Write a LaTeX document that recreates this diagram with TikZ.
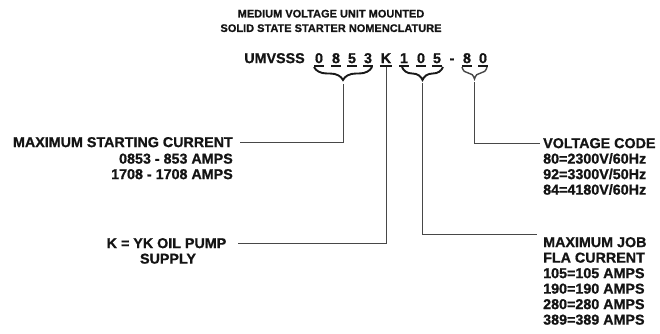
\documentclass[tikz,border=0pt]{standalone}
\usepackage{fontspec}
\setmainfont{Liberation Sans}[BoldFeatures={FakeBold=0.9}]
\usetikzlibrary{decorations.pathreplacing}
\begin{document}
\begin{tikzpicture}[x=1pt,y=-1pt,
  lbl/.style={font=\fontsize{14.3}{15.5}\selectfont\bfseries, inner sep=0pt, text height=10.2pt, text depth=0pt, text=black!92},
  ttl/.style={font=\fontsize{11}{13}\selectfont\bfseries, inner sep=0pt, text height=7.9pt, text depth=0pt, text=black!92},
  ch/.style={lbl, anchor=center},
  ul/.style={line width=1.4pt, black!90},
  brc/.style={decorate, decoration={brace, mirror, amplitude=13pt}, line width=1.9pt, black!90},
  conn/.style={line width=0.8pt, black!72}]
\path[use as bounding box, fill=white] (0,0) rectangle (660,333);

% title
\node[ttl] (t1) at (331,13.5) {MEDIUM VOLTAGE UNIT MOUNTED};
\node[ttl] (t2) at (331,28) {SOLID STATE STARTER NOMENCLATURE};

% code row
\node[ch] (um) at (274.5,58) {UMVSSS};
\node[ch] (d1) at (319,58) {0};
\node[ch] (d2) at (336,58) {8};
\node[ch] (d3) at (352,58) {5};
\node[ch] (d4) at (368,58) {3};
\node[ch] (d5) at (386,58) {K};
\node[ch] (d6) at (404,58) {1};
\node[ch] (d7) at (421,58) {0};
\node[ch] (d8) at (437,58) {5};
\node[ch] (d9) at (452,58) {-};
\node[ch] (d10) at (467,58) {8};
\node[ch] (d11) at (483,58) {0};
\foreach \d in {d1,d2,d3,d4,d5,d6,d7,d8,d10,d11}
  \draw[ul] ([xshift=-0.8pt,yshift=-2.6pt]\d.south west) -- ([xshift=0.8pt,yshift=-2.6pt]\d.south east);

% braces
\draw[brc] (314,67) -- (372,67);
\draw[brc] (402,67) -- (443,67);
\draw[brc, decoration={amplitude=12pt}, line width=1.4pt, black!72] (462,67) -- (487,67);
\coordinate (b1) at (343,84);
\coordinate (b2) at (422.5,83);
\coordinate (b3) at (474.5,82);

% left labels
\node[lbl, anchor=east] (msc) at (233,142) {MAXIMUM STARTING CURRENT};
\node[lbl, anchor=east] (msc1) at (233,158.5) {0853 - 853 AMPS};
\node[lbl, anchor=east] (msc2) at (233,174) {1708 - 1708 AMPS};
\node[lbl] (kyk) at (166.5,243) {K = YK OIL PUMP};
\node[lbl] (sup) at (168,258.5) {SUPPLY};

% right labels
\node[lbl, anchor=west] (vc) at (543,143) {VOLTAGE CODE};
\node[lbl, anchor=west] (vc1) at (543,158.5) {80=2300V/60Hz};
\node[lbl, anchor=west] (vc2) at (543,174) {92=3300V/50Hz};
\node[lbl, anchor=west] (vc3) at (543,189.5) {84=4180V/60Hz};
\node[lbl, anchor=west] (job) at (543,242) {MAXIMUM JOB};
\node[lbl, anchor=west] (job1) at (543,257.5) {FLA CURRENT};
\node[lbl, anchor=west] (job2) at (543,273) {105=105 AMPS};
\node[lbl, anchor=west] (job3) at (543,288.5) {190=190 AMPS};
\node[lbl, anchor=west] (job4) at (543,304) {280=280 AMPS};
\node[lbl, anchor=west] (job5) at (543,319.5) {389=389 AMPS};
\coordinate (jobend) at (537,234);

% connectors
\draw[conn] (b1) |- ([xshift=7pt]msc.east);
\draw[conn] ([yshift=-3.5pt]d5.south) |- ([xshift=12pt]kyk.east);
\draw[conn] (b2) |- (jobend);
\draw[conn] (b3) |- ([xshift=-3pt]vc.west);
\end{tikzpicture}
\end{document}
